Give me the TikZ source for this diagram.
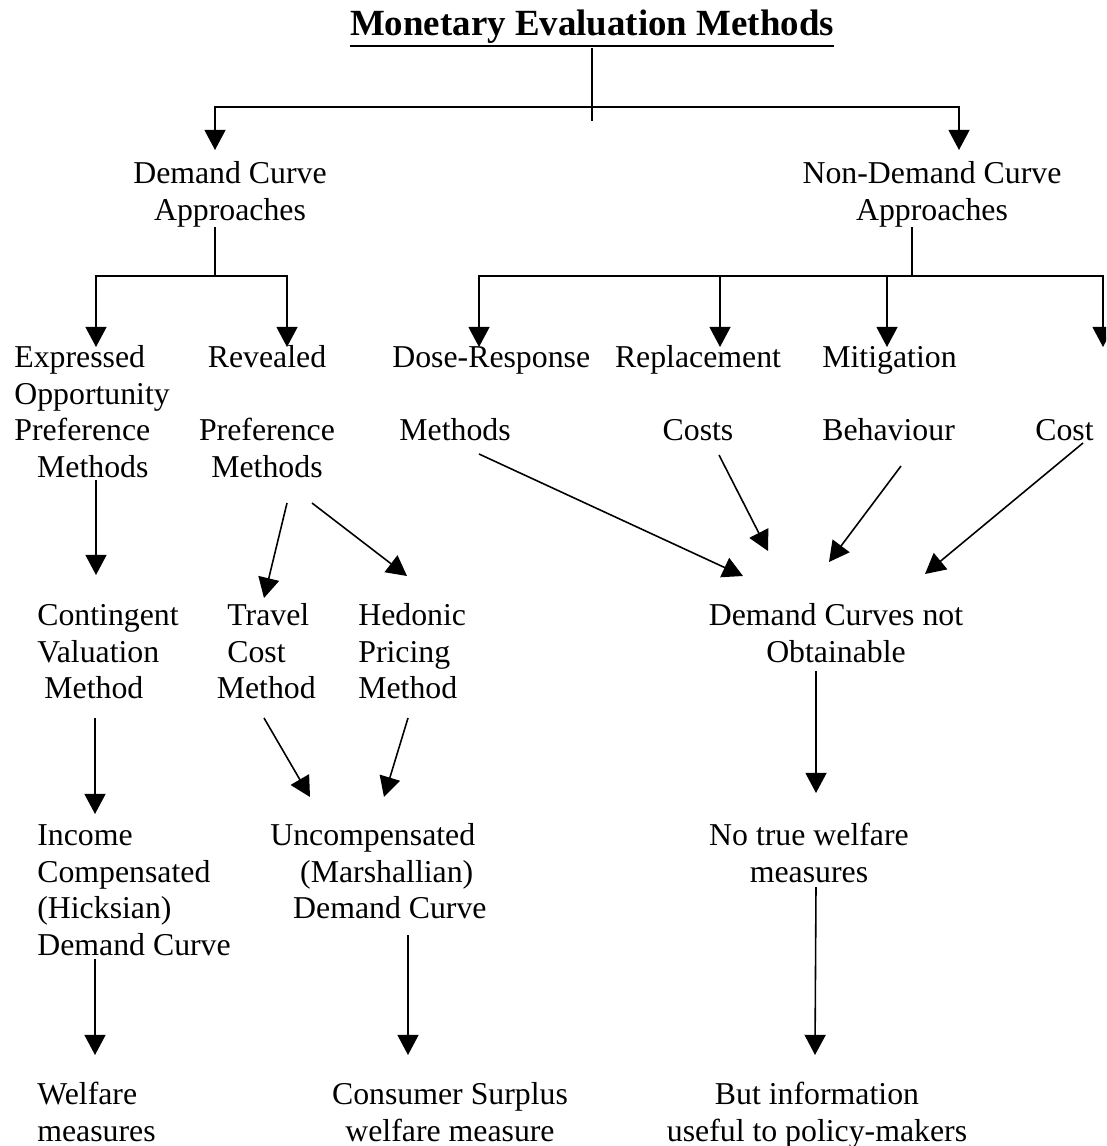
\documentclass[tikz,border=0pt]{standalone}
\usepackage{fontspec}
\setmainfont{Liberation Serif}
\usetikzlibrary{arrows.meta}

\begin{document}
\begin{tikzpicture}[x=0.02cm,y=-0.02cm,
        txt/.style={inner sep=0pt,font=\fontsize{18.1}{21}\selectfont},
        ln/.style={line width=0.9pt},
        arr/.style={line width=0.9pt,-{Triangle[length=11.5pt,width=12pt]}}]
        \useasboundingbox (0,0) rectangle (1106,1146);
        \clip (0,0) rectangle (1106,1146);
        %% title
        \node[inner sep=0pt,anchor=north,font=\bfseries\fontsize{21}{25}\selectfont] (title) at (592,10) {Monetary Evaluation Methods};
        \draw[line width=1.6pt] ([yshift=-1pt]title.south west) -- ([yshift=-1pt]title.south east);
        %% approaches
        \node[txt,anchor=north,align=center] (demand) at (230,157) {\strut Demand Curve\\Approaches};
        \node[txt,anchor=north,align=center] (nondemand) at (932,157) {\strut Non-Demand Curve\\Approaches};
        %% methods
        \node[txt,anchor=north west,align=left] (expressed) at (14,341) {\strut Expressed\\Opportunity\\Preference\\ \hspace*{13pt}Methods};
        \node[txt,anchor=north,align=center] (revealed) at (267,341) {\strut Revealed\\[21pt]Preference\\Methods};
        \node[txt,anchor=north west,align=left] (doseresp) at (392,341) {\strut Dose-Response\\[21pt]\hspace*{4pt}Methods};
        \node[txt,anchor=north,align=center] (replacement) at (698,341) {\strut Replacement\\[21pt]Costs};
        \node[txt,anchor=north west,align=left] (mitigation) at (822,341) {\strut Mitigation\\[21pt]Behaviour};
        \node[txt,anchor=north west] (cost) at (1035,414) {\strut Cost};
        %% valuation techniques
        \node[txt,anchor=north west,align=left] (contingent) at (37,599) {\strut Contingent\\Valuation\\ \hspace*{4pt}Method};
        \node[txt,anchor=north west,align=left] (travel) at (227,599) {\strut Travel\\Cost\\ \hspace*{-6pt}Method};
        \node[txt,anchor=north west,align=left] (hedonic) at (358,599) {\strut Hedonic\\Pricing\\Method};
        \node[txt,anchor=north,align=center] (notobt) at (836,599) {\strut Demand Curves not\\Obtainable};
        %% demand curves
        \node[txt,anchor=north west,align=left] (income) at (37,819) {\strut Income\\Compensated\\(Hicksian)\\Demand Curve};
        \node[txt,anchor=north west,align=left] (uncomp) at (270,819) {\strut Uncompensated\\ \hspace*{17pt}(Marshallian)\\ \hspace*{13pt}Demand Curve};
        \node[txt,anchor=north,align=center] (notrue) at (809,819) {\strut No true welfare\\measures};
        %% results
        \node[txt,anchor=north west,align=left] (welfare) at (37,1078) {\strut Welfare\\measures};
        \node[txt,anchor=north,align=center] (surplus) at (450,1078) {\strut Consumer Surplus\\welfare measure};
        \node[txt,anchor=north,align=center] (butinfo) at (817,1078) {\strut But information\\useful to policy-makers};

        %% top split
        \coordinate (fork) at (592,107);
        \draw[ln] ([yshift=-2pt]title.south) -- ++(0,73);
        \draw[arr] (fork) -| ([shift={(-15,-7)}]demand.north);
        \draw[arr] (fork) -| ([shift={(27,-7)}]nondemand.north);
        %% demand curve branch
        \draw[ln] ([xshift=-0.3cm]demand.south) -- ++(0,49) coordinate (dfork);
        \draw[arr] (dfork) -| ([shift={(82,6)}]expressed.north west);
        \draw[arr] (dfork) -| ([shift={(20,6)}]revealed.north);
        %% non-demand branch
        \draw[ln] ([xshift=-0.4cm]nondemand.south) -- ++(0,49) coordinate (nfork);
        \coordinate (edge) at (1103,347);
        \draw[arr] (nfork) -| ([shift={(87,6)}]doseresp.north west);
        \draw[arr] (nfork) -| ([shift={(22,6)}]replacement.north);
        \draw[arr] (nfork) -| ([shift={(65,6)}]mitigation.north west);
        \draw[arr] (nfork) -| (edge);
        %% methods to techniques
        \draw[arr] ([shift={(82,139)}]expressed.north west) -- ([shift={(59,-24)}]contingent.north west);
        \draw[arr] ([shift={(20,162)}]revealed.north) -- ([shift={(37,-1)}]travel.north west);
        \draw[arr] ([shift={(45,162)}]revealed.north) -- ([shift={(49,-23)}]hedonic.north west);
        \draw[arr] ([shift={(87,113)}]doseresp.north west) -- ([shift={(-93,-23)}]notobt.north);
        \draw[arr] ([shift={(21,114)}]replacement.north) -- ([shift={(-68,-48)}]notobt.north);
        \draw[arr] ([shift={(79,125)}]mitigation.north west) -- ([shift={(-7,-37)}]notobt.north);
        \draw[arr] ([shift={(48,29)}]cost.north west) -- ([shift={(89,-25)}]notobt.north);
        %% techniques to demand curves
        \draw[arr] ([shift={(58,119)}]contingent.north west) -- ([shift={(58,-5)}]income.north west);
        \draw[arr] ([shift={(37,119)}]travel.north west) -- ([shift={(40,-22)}]uncomp.north west);
        \draw[arr] ([shift={(50,119)}]hedonic.north west) -- ([shift={(114,-22)}]uncomp.north west);
        \draw[arr] ([shift={(-20,72)}]notobt.north) -- ([shift={(7,-26)}]notrue.north);
        %% demand curves to results
        \draw[arr] ([shift={(58,140)}]income.north west) -- ([shift={(58,-23)}]welfare.north west);
        \draw[arr] ([shift={(138,116)}]uncomp.north west) -- ([shift={(-42,-23)}]surplus.north);
        \draw[arr] ([shift={(7,68)}]notrue.north) -- ([shift={(-2,-23)}]butinfo.north);
    \end{tikzpicture}
\end{document}
